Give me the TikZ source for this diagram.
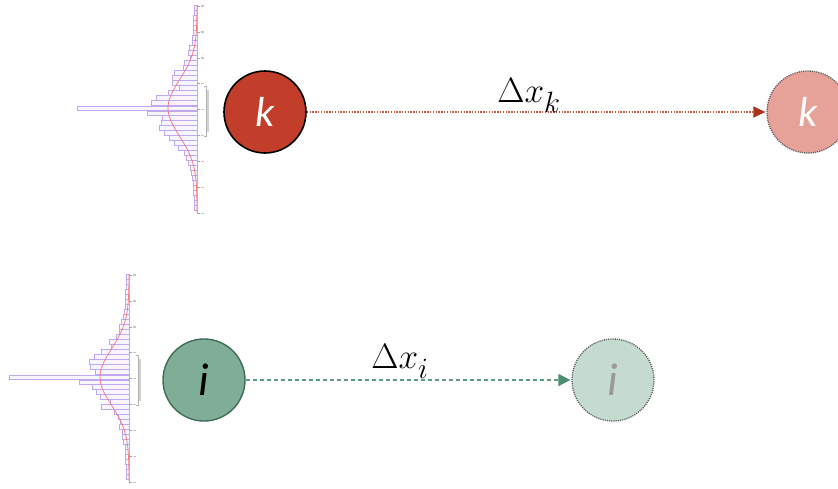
\documentclass[tikz,border=0pt]{standalone}
\usepackage{fontspec}
\setmainfont{Carlito}
\usetikzlibrary{arrows.meta}
\definecolor{kred}{HTML}{C33D2B}
\definecolor{kghost}{HTML}{E6A298}
\definecolor{igreen}{HTML}{80AD97}
\definecolor{iborder}{HTML}{3E6E58}
\definecolor{ighost}{HTML}{C6DBCF}
\definecolor{redline}{HTML}{C45A44}
\definecolor{redtip}{HTML}{A8341E}
\definecolor{greenline}{HTML}{5E9B80}
\definecolor{greentip}{HTML}{4E8C6F}
\definecolor{barcol}{HTML}{BFA8F0}
\newcommand\bigsub[1]{\raisebox{-6pt}{\scalebox{1.2}{\fontsize{15}{16}\selectfont$#1$}}}
\tikzset{
  ball/.style={circle, minimum size=82pt, inner sep=0pt, font=\fontsize{42}{44}\selectfont\itshape},
  ghostborder/.style={draw=gray!70!black, line width=1.3pt, dash pattern=on 1.1pt off 1.1pt},
  redarrow/.style={draw=redline, line width=1.3pt, dash pattern=on 1.4pt off 1.4pt,
     -{Triangle[length=12pt,width=11pt,fill=redtip,color=redtip]}, shorten >=1pt},
  greenarrow/.style={draw=greenline, line width=1.6pt, dash pattern=on 4.5pt off 2.5pt,
     -{Triangle[length=12pt,width=12pt,fill=greentip,color=greentip]}, shorten >=1pt},
  dlabel/.style={font=\fontsize{20}{22}\selectfont, scale=1.7, inner sep=0pt, anchor=base west},
  histbar/.style={draw=barcol, fill=barcol!12, line width=0.6pt},
  gausscurve/.style={draw=red!55, line width=0.7pt},
  histaxis/.style={draw=violet!35, line width=0.7pt}
}
\newcommand\myhisto[3]{%
  \begin{scope}[shift={(#1,#2)}]
    \pgfmathsetseed{#3}
    \foreach \n in {-20,...,20}{
      \pgfmathsetmacro\yy{\n*5}
      \pgfmathsetmacro\dd{30*exp(-(\yy*\yy)/1568)*(0.6+0.9*rnd)+3}
      \ifnum\n=0
        \draw[histbar] (0,\yy-1.8) rectangle (-120,\yy+1.8);
      \else\ifnum\n=1
        \draw[histbar] (0,\yy-2.2) rectangle (-50,\yy+2.5);
      \else
        \draw[histbar] (0,\yy-2.5) rectangle (-\dd,\yy+2.5);
      \fi\fi
    }
    \draw[gausscurve] plot[domain=-103:104, samples=80, smooth] ({-29*exp(-(\x*\x)/1568)},\x);
    \draw[histaxis] (0,-102) -- (0,105);
    \foreach \t in {0,...,8}{
      \draw[gray!70, line width=0.5pt] (0,-102+\t*25.9) -- (2.5,-102+\t*25.9);
      \draw[gray!45, line width=1.4pt] (4,-102+\t*25.9) -- (6.5,-102+\t*25.9);
    }
    \draw[gray!60, line width=0.5pt] (7,-22) -- (9,-22) -- (9,28) -- (7,28);
    \draw[gray!35, line width=1.6pt] (11,-18) -- (11,24);
  \end{scope}}
\begin{document}
\begin{tikzpicture}[x=1pt,y=-1pt]
  \useasboundingbox (0,0) rectangle (838,488);
  \fill[white] (0,0) rectangle (838,488);
  % histograms
  \myhisto{197}{108}{3}
  \myhisto{129}{377}{11}
  % top row
  \node[ball, fill=kred, draw=black, line width=1.6pt, text=white] (k) at (265,112) {k};
  \node[ball, fill=kghost, ghostborder, text=white] (kg) at (808,112) {k};
  \draw[redarrow] (k) -- (kg);
  \node[dlabel] (dk) at (497,102) {$\Delta x$\bigsub{k}};
  % bottom row
  \node[ball, fill=igreen, draw=iborder, line width=1.4pt, text=black, font=\fontsize{46}{48}\selectfont\itshape] (i) at (204,380) {i};
  \node[ball, fill=ighost, ghostborder, text=gray!80, font=\fontsize{46}{48}\selectfont\itshape] (ig) at (613,380) {i};
  \draw[greenarrow] (i) -- (ig);
  \node[dlabel] (di) at (371,368) {$\Delta x$\bigsub{i}};
\end{tikzpicture}
\end{document}
